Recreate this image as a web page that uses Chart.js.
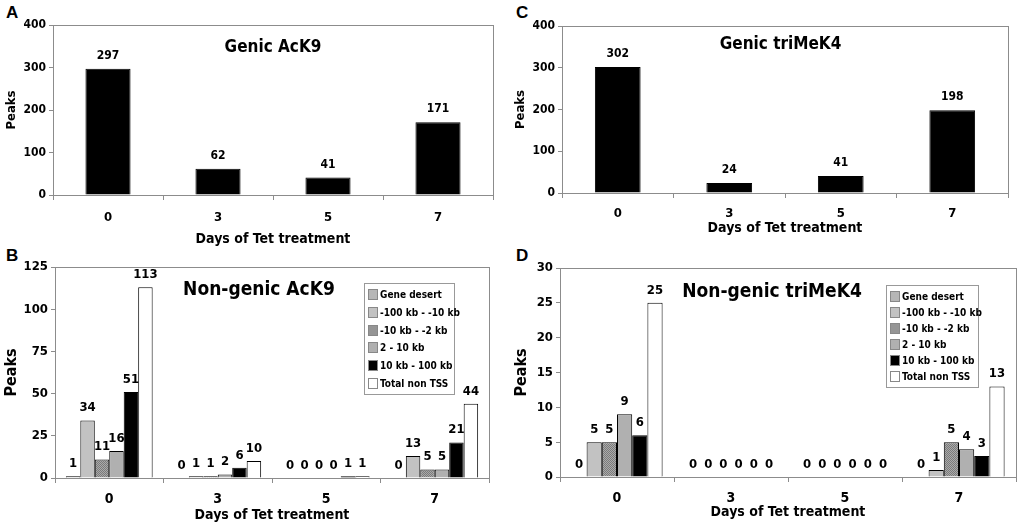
<!DOCTYPE html>
<html>
<head>
<meta charset="utf-8">
<script src="https://cdn.jsdelivr.net/npm/chart.js@4.4.0/dist/chart.umd.min.js"></script>
<style>
    body { margin: 0; background: #fff; width: 1020px; height: 527px; position: relative; overflow: hidden;
           font-family: 'DejaVu Sans Condensed', 'Liberation Sans', Arial, sans-serif; }
    .panel { position: absolute; }
    .letter { position: absolute; font: bold 17px 'Liberation Sans', Arial, sans-serif; }
    .legend { position: absolute; border: 1px solid #999; background: #fff; box-sizing: border-box;
              padding: 2px 0 0 3px; font-weight: bold; font-size: 10px; }
    .legend div { display: flex; align-items: center; white-space: nowrap; }
    .legend span.sw { flex: 0 0 auto; width: 8px; height: 9px; border: 1px solid #888; margin-right: 2px; }
</style>
</head>
<body>
<div class="letter" style="left:6px;top:3px">A</div>
<div class="letter" style="left:6px;top:246px">B</div>
<div class="letter" style="left:516px;top:3px">C</div>
<div class="letter" style="left:516px;top:246px">D</div>

<canvas id="chartA" class="panel" style="left:0;top:0" width="510" height="250"></canvas>
<canvas id="chartB" class="panel" style="left:0;top:250px" width="510" height="277"></canvas>
<canvas id="chartC" class="panel" style="left:510px;top:0" width="510" height="250"></canvas>
<canvas id="chartD" class="panel" style="left:510px;top:250px" width="510" height="277"></canvas>

<div id="legendB" class="legend" style="left:364px;top:283px;width:91px;height:112px"></div>
<div id="legendD" class="legend" style="left:886px;top:285px;width:93px;height:103px"></div>

<script>
const FONT = "'DejaVu Sans Condensed', 'Liberation Sans', Arial, sans-serif";

// Data
const days = ['0', '3', '5', '7'];
const genicAcK9 = [297, 62, 41, 171];
const genicTriMeK4 = [302, 24, 41, 198];

const regionNames = ['Gene desert', '-100 kb - -10 kb', '-10 kb - -2 kb', '2 - 10 kb', '10 kb - 100 kb', 'Total non TSS'];

// Non-genic AcK9, one array per region
const acK9Desert = [1, 0, 0, 0];
const acK9Up100 = [34, 1, 0, 13];
const acK9Up10 = [11, 1, 0, 5];
const acK9Down10 = [16, 2, 0, 5];
const acK9Down100 = [51, 6, 1, 21];
const acK9Total = [113, 10, 1, 44];

// Non-genic triMeK4
const k4Desert = [0, 0, 0, 0];
const k4Up100 = [5, 0, 0, 1];
const k4Up10 = [5, 0, 0, 5];
const k4Down10 = [9, 0, 0, 4];
const k4Down100 = [6, 0, 0, 3];
const k4Total = [25, 0, 0, 13];

const yTicksGenic = [0, 100, 200, 300, 400];
const yTicksAcK9 = [0, 25, 50, 75, 100, 125];
const yTicksK4 = [0, 5, 10, 15, 20, 25, 30];

// dotted gray fill for the "-10 kb - -2 kb" bars
function dottedPattern() {
    const c = document.createElement('canvas');
    c.width = 2; c.height = 2;
    const g = c.getContext('2d');
    g.fillStyle = '#aaaaaa';
    g.fillRect(0, 0, 2, 2);
    g.fillStyle = '#7a7a7a';
    g.fillRect(0, 0, 1, 1);
    g.fillRect(1, 1, 1, 1);
    return g.createPattern(c, 'repeat');
}

const regionColors = ['#b6b6b6', '#c2c2c2', dottedPattern(), '#b0b0b0', '#000000', '#ffffff'];
const swatchColors = ['#b6b6b6', '#c2c2c2', '#959595', '#b0b0b0', '#000000', '#ffffff'];

// Plugins
const valueLabels = {
    id: 'valueLabels',
    afterDatasetsDraw(chart, args, opts) {
        const ctx = chart.ctx;
        ctx.save();
        ctx.font = `bold ${opts.size}px ${FONT}`;
        ctx.fillStyle = '#000';
        ctx.textAlign = 'center';
        ctx.textBaseline = 'bottom';
        chart.data.datasets.forEach((ds, i) => {
            chart.getDatasetMeta(i).data.forEach((bar, j) => {
                ctx.fillText(String(ds.data[j]), bar.x, bar.y - opts.gap);
            });
        });
        ctx.restore();
    }
};

const innerTitle = {
    id: 'innerTitle',
    afterDraw(chart, args, opts) {
        const { ctx, chartArea } = chart;
        ctx.save();
        ctx.font = `bold ${opts.size}px ${FONT}`;
        ctx.fillStyle = '#000';
        ctx.textAlign = 'center';
        ctx.textBaseline = 'middle';
        ctx.fillText(opts.text, chartArea.left + chartArea.width * opts.xFrac, chartArea.top + opts.dy);
        ctx.restore();
    }
};

const plotFrame = {
    id: 'plotFrame',
    beforeDatasetsDraw(chart) {
        const { ctx, chartArea } = chart;
        ctx.save();
        ctx.strokeStyle = '#8c8c8c';
        ctx.lineWidth = 1;
        ctx.strokeRect(Math.round(chartArea.left) + 0.5, Math.round(chartArea.top) + 0.5,
            Math.round(chartArea.width), Math.round(chartArea.height));
        ctx.restore();
    }
};

function makeChart(id, cfg) {
    const canvas = document.getElementById(id);
    const W = canvas.width, H = canvas.height;
    const a = cfg.area;
    return new Chart(canvas, {
        type: 'bar',
        data: { labels: days, datasets: cfg.datasets },
        options: {
            responsive: false,
            animation: false,
            events: [],
            layout: { padding: { left: 0, top: a.top, right: W - a.right, bottom: 0 } },
            plugins: {
                legend: { display: false },
                tooltip: { enabled: false },
                valueLabels: { size: cfg.labelSize, gap: cfg.labelGap },
                innerTitle: cfg.title
            },
            scales: {
                x: {
                    grid: { drawOnChartArea: false, tickLength: 5, color: '#8c8c8c' },
                    border: { color: '#8c8c8c' },
                    ticks: { color: '#000', padding: cfg.xTickPad, font: { family: FONT, size: cfg.tickSize, weight: 'bold' } },
                    title: {
                        display: true, text: 'Days of Tet treatment', color: '#000',
                        padding: { top: 0, bottom: cfg.xTitlePad },
                        font: { family: FONT, size: cfg.axisTitleSize, weight: 'bold' }
                    },
                    afterFit: s => { s.height = H - a.bottom; }
                },
                y: {
                    min: cfg.yTicks[0],
                    max: cfg.yTicks[cfg.yTicks.length - 1],
                    ticks: { stepSize: cfg.yTicks[1] - cfg.yTicks[0], color: '#000', padding: 3,
                             font: { family: FONT, size: cfg.yTickSize, weight: 'bold' } },
                    grid: { drawOnChartArea: false, tickLength: 4, color: '#8c8c8c' },
                    border: { color: '#8c8c8c' },
                    title: {
                        display: true, text: 'Peaks', color: '#000', padding: { top: cfg.yTitlePad, bottom: 0 },
                        font: { family: FONT, size: cfg.yTitleSize, weight: 'bold' }
                    },
                    afterFit: s => { s.width = a.left; }
                }
            }
        },
        plugins: [plotFrame, valueLabels, innerTitle]
    });
}

function genicDataset(values) {
    return [{
        data: values, backgroundColor: '#000', borderColor: '#000', borderWidth: 1,
        categoryPercentage: 1, barPercentage: 0.41
    }];
}

function regionDatasets(series) {
    return series.map((values, i) => ({
        label: regionNames[i], data: values,
        backgroundColor: regionColors[i], borderColor: '#000', borderWidth: 1,
        categoryPercentage: 0.8, barPercentage: 1
    }));
}

function buildLegend(id) {
    const box = document.getElementById(id);
    box.innerHTML = regionNames.map((name, i) =>
        `<div style="height:${(box.clientHeight - 4) / 6}px"><span class="sw" style="background:${swatchColors[i]}"></span>${name}</div>`
    ).join('');
}

makeChart('chartA', {
    area: { left: 53, right: 493, top: 25, bottom: 195 },
    datasets: genicDataset(genicAcK9),
    yTicks: yTicksGenic,
    labelSize: 12, labelGap: 7,
    tickSize: 13, yTickSize: 12, xTickPad: 10,
    axisTitleSize: 14, xTitlePad: 2,
    yTitleSize: 13, yTitlePad: 4,
    title: { text: 'Genic AcK9', size: 17, xFrac: 0.5, dy: 23 }
});

makeChart('chartC', {
    area: { left: 52, right: 498, top: 26, bottom: 193 },
    datasets: genicDataset(genicTriMeK4),
    yTicks: yTicksGenic,
    labelSize: 12, labelGap: 7,
    tickSize: 13, yTickSize: 12, xTickPad: 8,
    axisTitleSize: 14, xTitlePad: 13,
    yTitleSize: 13, yTitlePad: 3,
    title: { text: 'Genic triMeK4', size: 17, xFrac: 0.49, dy: 19 }
});

makeChart('chartB', {
    area: { left: 55, right: 489, top: 17, bottom: 228 },
    datasets: regionDatasets([acK9Desert, acK9Up100, acK9Up10, acK9Down10, acK9Down100, acK9Total]),
    yTicks: yTicksAcK9,
    labelSize: 13, labelGap: 6,
    tickSize: 14, yTickSize: 13, xTickPad: 8,
    axisTitleSize: 14, xTitlePad: 3,
    yTitleSize: 16, yTitlePad: 2,
    title: { text: 'Non-genic AcK9', size: 19, xFrac: 0.47, dy: 23 }
});

makeChart('chartD', {
    area: { left: 50, right: 506, top: 18, bottom: 227 },
    datasets: regionDatasets([k4Desert, k4Up100, k4Up10, k4Down10, k4Down100, k4Total]),
    yTicks: yTicksK4,
    labelSize: 13, labelGap: 6,
    tickSize: 14, yTickSize: 13, xTickPad: 8,
    axisTitleSize: 14, xTitlePad: 6,
    yTitleSize: 16, yTitlePad: 2,
    title: { text: 'Non-genic triMeK4', size: 19, xFrac: 0.465, dy: 24 }
});

buildLegend('legendB');
buildLegend('legendD');
</script>
</body>
</html>
